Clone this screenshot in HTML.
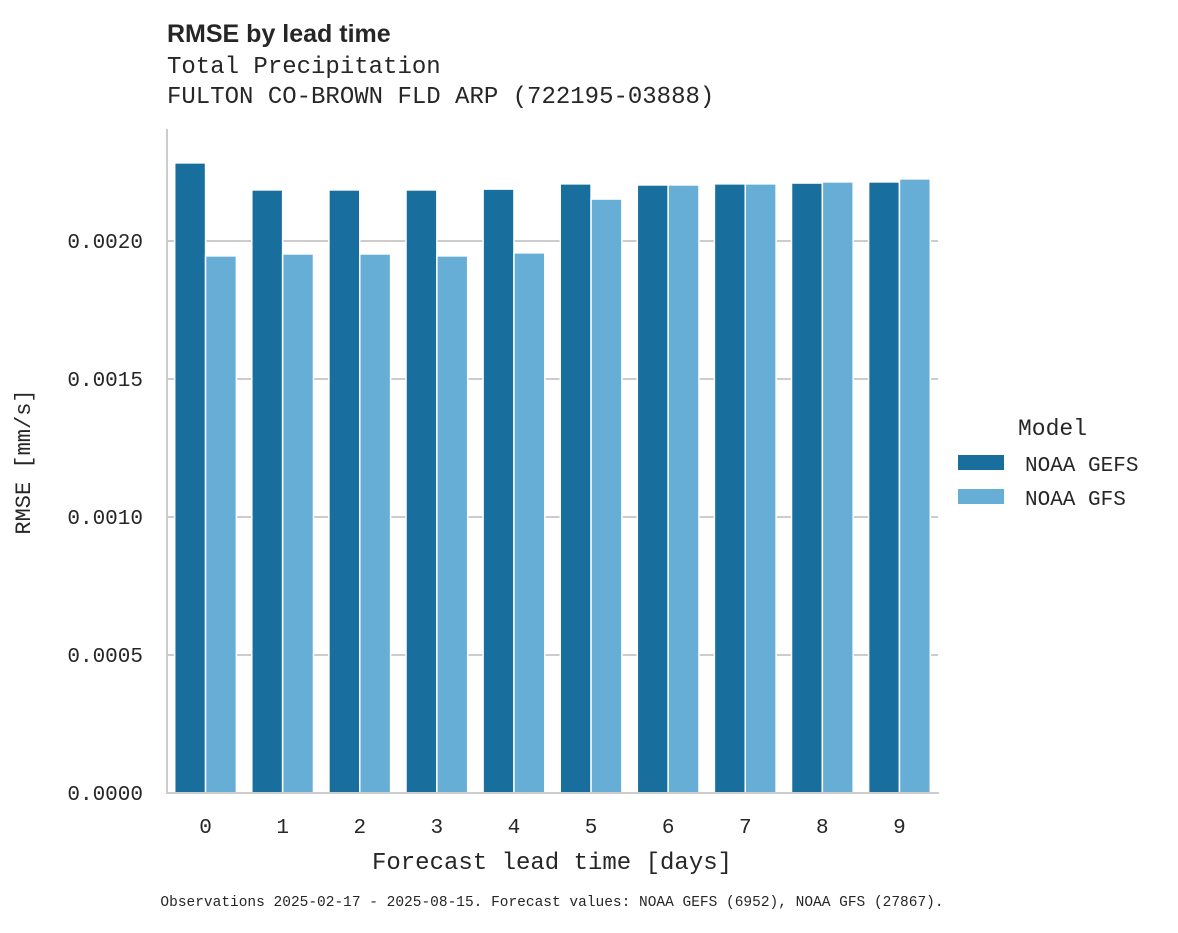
<!DOCTYPE html>
<html><head><meta charset="utf-8"><style>
body{margin:0;background:#fff;}
svg text{font-family:"Liberation Mono",monospace;fill:#262626;}
</style></head><body>
<svg width="1178" height="928">
<text x="167" y="42" style="font-family:'Liberation Sans',sans-serif;font-weight:bold;font-size:25px">RMSE by lead time</text>
<text x="167" y="73" font-size="24">Total Precipitation</text>
<text x="167" y="103" font-size="24">FULTON CO-BROWN FLD ARP (722195-03888)</text>
<g id="grid"></g>
<g id="bars"></g>
<line x1="167" y1="129" x2="167" y2="794" stroke="#cccccc" stroke-width="2"/>
<line x1="166" y1="793" x2="939" y2="793" stroke="#cccccc" stroke-width="2"/>
<g id="yt"></g><g id="xt"></g>
<text x="30" y="462" font-size="22" text-anchor="middle" transform="rotate(-90 30 462)">RMSE [mm/s]</text>
<text x="552" y="869" font-size="24" text-anchor="middle">Forecast lead time [days]</text>
<text x="1018" y="435" font-size="23">Model</text>
<rect x="958" y="455" width="46" height="15" fill="#186f9e"/>
<text x="1025" y="471" font-size="21">NOAA GEFS</text>
<rect x="958" y="489" width="46" height="15" fill="#67aed7"/>
<text x="1025" y="505" font-size="21">NOAA GFS</text>
<text x="552" y="906" font-size="14.5" text-anchor="middle">Observations 2025-02-17 - 2025-08-15. Forecast values: NOAA GEFS (6952), NOAA GFS (27867).</text>
</svg>
<script>
const categories=["0","1","2","3","4","5","6","7","8","9"];
const gefs=[0.002283,0.002185,0.002185,0.002185,0.002188,0.002207,0.002203,0.002207,0.00221,0.002214];
const gfs=[0.001946,0.001953,0.001953,0.001946,0.001957,0.002152,0.002203,0.002207,0.002214,0.002225];
const yTicks=[0,0.0005,0.001,0.0015,0.002];
const yTickLabels=["0.0000","0.0005","0.0010","0.0015","0.0020"];
const NS="http://www.w3.org/2000/svg";
const x0=167,x1=938,y0=793,pxPerUnit=276000;
const y=v=>y0-v*pxPerUnit;
const bw=(x1-x0)/categories.length;
const xc=i=>x0+bw*(i+0.5);
const grid=document.getElementById('grid'),bars=document.getElementById('bars'),yt=document.getElementById('yt'),xt=document.getElementById('xt');
function mk(tag,attrs,parent){const e=document.createElementNS(NS,tag);for(const k in attrs)e.setAttribute(k,attrs[k]);parent.appendChild(e);return e;}
yTicks.forEach((t,i)=>{
 if(t>0){const l=mk('line',{x1:x0,x2:x1,y1:y(t),y2:y(t),stroke:'#cccccc','stroke-width':2},grid);
 
 }
 const tx=mk('text',{x:143,y:y(t)+7,'font-size':21,'text-anchor':'end'},yt);tx.textContent=yTickLabels[i];
 
 
});
const w=bw*0.4;
categories.forEach((c,i)=>{
 const a=mk('rect',{x:xc(i)-w,y:y(gefs[i]),width:w,height:y0-y(gefs[i]),fill:'#186f9e',stroke:'#fff','stroke-width':1.5},bars);
 
 
 const b=mk('rect',{x:xc(i),y:y(gfs[i]),width:w,height:y0-y(gfs[i]),fill:'#67aed7',stroke:'#fff','stroke-width':1.5},bars);
 
 
 const t=mk('text',{x:xc(i),y:833,'font-size':21,'text-anchor':'middle'},xt);t.textContent=c;
 
 
});
</script>
</body></html>
